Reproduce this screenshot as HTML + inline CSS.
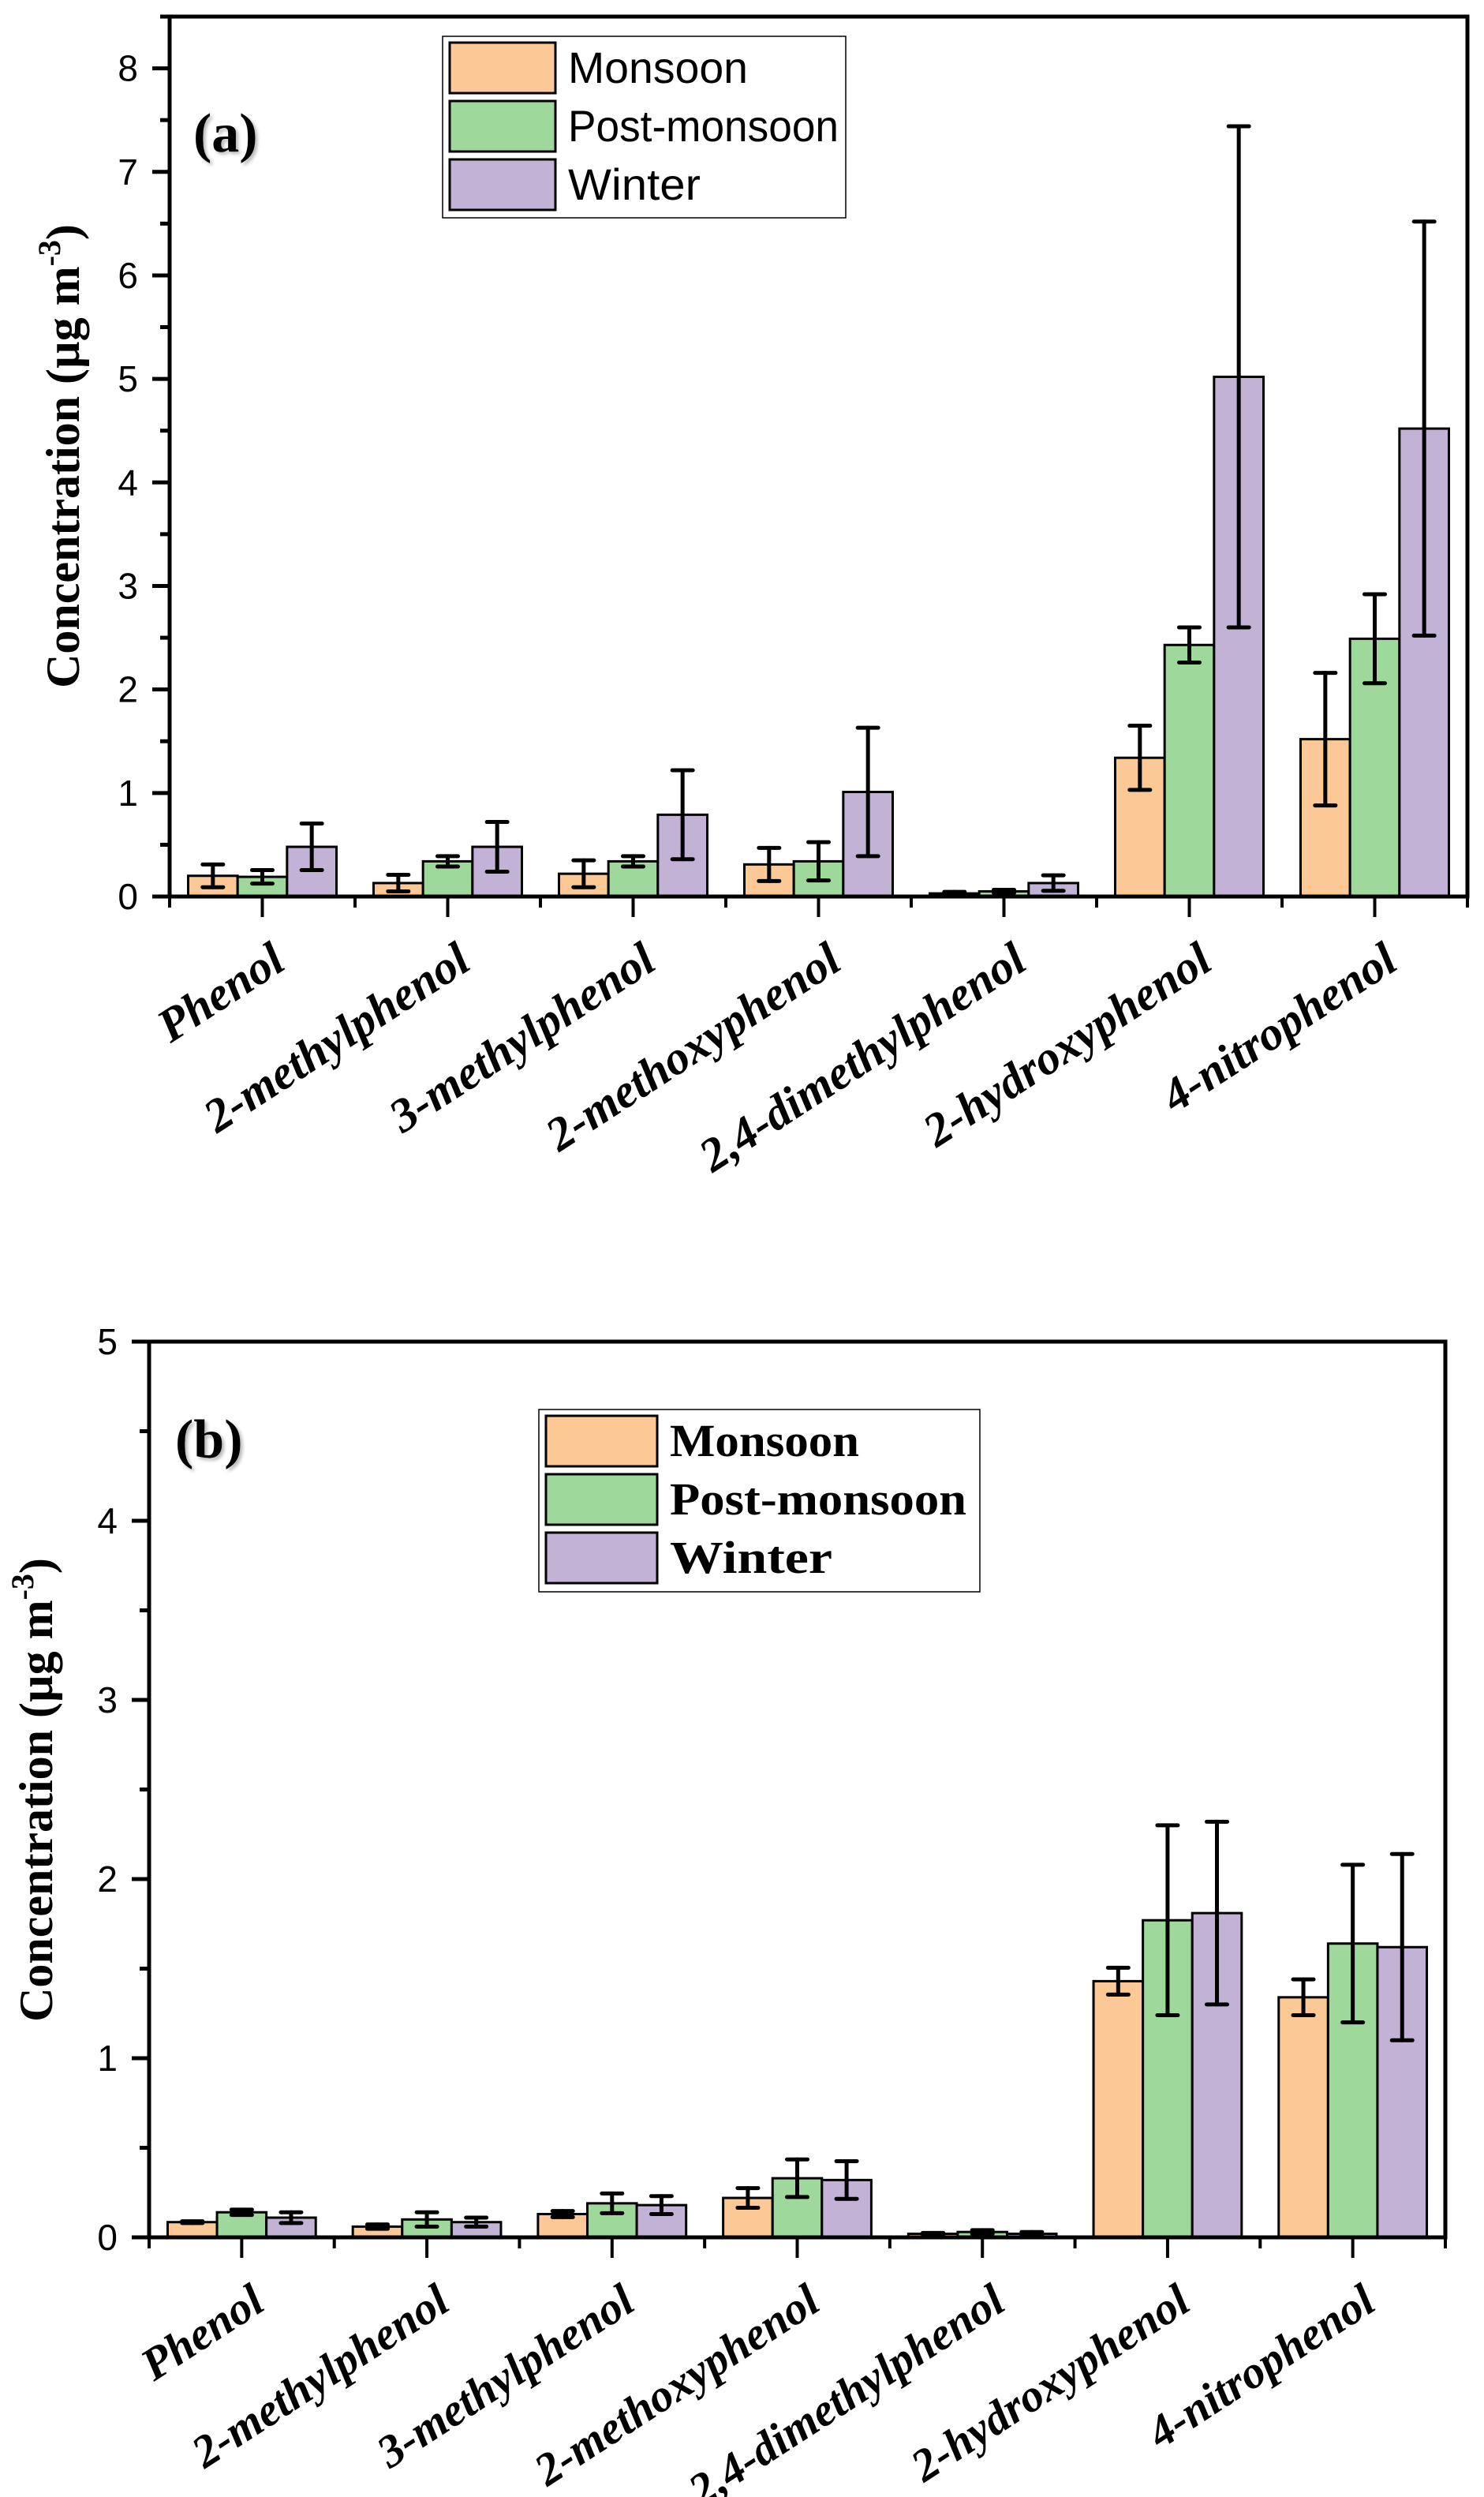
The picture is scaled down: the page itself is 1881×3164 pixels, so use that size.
<!DOCTYPE html>
<html><head><meta charset="utf-8"><style>
html,body{margin:0;padding:0;background:#fff;}
svg{display:block;}
</style></head><body>
<svg id="fig" width="1881" height="3164" viewBox="0 0 1881 3164" xmlns="http://www.w3.org/2000/svg">
<defs><filter id="sh" x="-20%" y="-20%" width="140%" height="140%"><feDropShadow dx="3" dy="3" stdDeviation="2" flood-color="#999" flood-opacity="0.7"/></filter></defs>
</svg>
<script>
const categories = ["Phenol","2-methylphenol","3-methylphenol","2-methoxyphenol","2,4-dimethylphenol","2-hydroxyphenol","4-nitrophenol"];
const seriesNames = ["Monsoon","Post-monsoon","Winter"];
// Panel (a)
const aMonsoon = [0.20,0.13,0.22,0.31,0.03,1.34,1.52];
const aMonsoonErr = [0.11,0.08,0.13,0.16,0.015,0.31,0.64];
const aPost = [0.19,0.34,0.34,0.34,0.05,2.43,2.49];
const aPostErr = [0.065,0.05,0.05,0.185,0.015,0.17,0.43];
const aWinter = [0.48,0.48,0.79,1.01,0.13,5.02,4.52];
const aWinterErr = [0.225,0.24,0.43,0.62,0.075,2.42,2.0];
const aTicks = [0,1,2,3,4,5,6,7,8];
// Panel (b)
const bMonsoon = [0.085,0.06,0.13,0.22,0.02,1.43,1.34];
const bMonsoonErr = [0.005,0.012,0.017,0.055,0.005,0.075,0.10];
const bPost = [0.14,0.10,0.19,0.33,0.03,1.77,1.64];
const bPostErr = [0.015,0.04,0.055,0.105,0.01,0.53,0.44];
const bWinter = [0.11,0.085,0.18,0.32,0.02,1.81,1.62];
const bWinterErr = [0.03,0.025,0.05,0.105,0.01,0.51,0.52];
const bTicks = [0,1,2,3,4,5];

const colors = ["#FBC896","#9ED89B","#C1B2D6"];
const NS = "http://www.w3.org/2000/svg";
const svg = document.getElementById('fig');
function mk(tag, attrs, parent){ const e=document.createElementNS(NS,tag); for(const k in attrs) e.setAttribute(k,attrs[k]); (parent||svg).appendChild(e); return e; }

function panel(cfg){
  const g = mk('g',{});
  
  
  const {L,R,T,B} = cfg;
  const ys = v => B - v*(B-T)/cfg.top;
  const gw = (R-L)/categories.length;
  const xc = i => L + gw*(i+0.5);
  const bw = gw*0.8/3;
  const vals=[cfg.m,cfg.p,cfg.w], errs=[cfg.me,cfg.pe,cfg.we];
  for(let s=0;s<3;s++){
    for(let i=0;i<categories.length;i++){
      const x0 = xc(i) - 1.5*bw + s*bw;
      const r = mk('rect',{x:x0,y:ys(vals[s][i]),width:bw,height:B-ys(vals[s][i]),fill:colors[s],stroke:'#000','stroke-width':3},g);
      
      
    }
  }
  for(let s=0;s<3;s++){
    for(let i=0;i<categories.length;i++){
      const cx = xc(i) - bw + s*bw;
      const hi = ys(vals[s][i]+errs[s][i]), lo = ys(Math.max(0,vals[s][i]-errs[s][i]));
      const eg = mk('g',{stroke:'#000','stroke-width':5,'stroke-linecap':'round'},g);
      
      
      mk('line',{x1:cx,x2:cx,y1:hi,y2:lo},eg);
      mk('line',{x1:cx-13,x2:cx+13,y1:hi,y2:hi},eg);
      mk('line',{x1:cx-13,x2:cx+13,y1:lo,y2:lo},eg);
    }
  }
  const fr = mk('rect',{x:L,y:T,width:R-L,height:B-T,fill:'none',stroke:'#000','stroke-width':5},g);
  
  
  const yax = mk('g',{},g);
  
  
  cfg.ticks.forEach(t=>{
    mk('line',{x1:L-22,x2:L,y1:ys(t),y2:ys(t),stroke:'#000','stroke-width':5},yax);
    if(t+0.5<=cfg.top) mk('line',{x1:L-12,x2:L,y1:ys(t+0.5),y2:ys(t+0.5),stroke:'#000','stroke-width':5},yax);
    const tx = mk('text',{x:L-40,y:ys(t)+16,'text-anchor':'end','font-family':'"Liberation Sans Narrow","Liberation Sans",sans-serif','font-size':46},yax);
    tx.textContent = t;
    
    
  });
  const xax = mk('g',{},g);
  
  
  for(let i=0;i<=categories.length;i++){
    mk('line',{x1:L+gw*i,x2:L+gw*i,y1:B,y2:B+14,stroke:'#000','stroke-width':4},xax);
  }
  categories.forEach((c,i)=>{
    mk('line',{x1:xc(i),x2:xc(i),y1:B,y2:B+26,stroke:'#000','stroke-width':4},xax);
    const tx = mk('text',{x:0,y:0,'text-anchor':'end','font-family':'"Liberation Serif",serif','font-weight':'bold','font-style':'italic','font-size':cfg.xfs,transform:`translate(${xc(i)+32},${B+90}) rotate(-33)`},xax);
    tx.textContent = c;
    
    
  });
  const yt = mk('text',{x:0,y:0,'text-anchor':'middle','font-family':'"Liberation Serif",serif','font-weight':'bold','font-size':60,transform:`translate(${cfg.ytx},${cfg.yty}) rotate(-90)`},g);
  
  
  yt.appendChild(document.createTextNode('Concentration (µg m'));
  const sup = mk('tspan',{dy:-24,'font-size':40},yt); sup.textContent='-3';
  const cl = mk('tspan',{dy:24},yt); cl.textContent=')';
  const pl = mk('text',{x:cfg.lx,y:cfg.ly,'font-family':'"Liberation Serif",serif','font-weight':'bold','font-size':70,filter:'url(#sh)'},g);
  pl.textContent = cfg.label;
  
  
  const lg = mk('g',{},g);
  
  
  mk('rect',{x:cfg.lgx,y:cfg.lgy,width:cfg.lgw,height:cfg.lgh,fill:'#fff',stroke:'#000','stroke-width':1.5},lg);
  seriesNames.forEach((n,s)=>{
    const eg = mk('g',{},lg);
    
    
    const ry = cfg.lgy+8+s*cfg.rowH;
    mk('rect',{x:cfg.lgx+9,y:ry,width:cfg.swW,height:cfg.rowH-10,fill:colors[s],stroke:'#000','stroke-width':3},eg);
    const attrs = {x:cfg.lgx+9+cfg.swW+16,y:ry+cfg.rowH/2+14,'font-size':cfg.lfs,'font-family':cfg.lfont};
    if(cfg.lbold) attrs['font-weight']='bold';
    if(cfg.lLen) { attrs.textLength=cfg.lLen[s]; attrs.lengthAdjust='spacingAndGlyphs'; }
    const t = mk('text',attrs,eg); t.textContent=n;
  });
}

panel({name:'chart-a',L:215,R:1860,T:21,B:1136,top:8.5,ticks:aTicks,m:aMonsoon,p:aPost,w:aWinter,me:aMonsoonErr,pe:aPostErr,we:aWinterErr,
  xfs:60,ytx:100,yty:578,label:'(a)',lx:245,ly:192,
  lgx:561,lgy:46,lgw:511,lgh:230,rowH:74,swW:134,lfs:56,lfont:'"Liberation Sans Narrow","Liberation Sans",sans-serif',lbold:false,lLen:[228,343,168]});
panel({name:'chart-b',L:189,R:1832,T:1700,B:2835,top:5,ticks:bTicks,m:bMonsoon,p:bPost,w:bWinter,me:bMonsoonErr,pe:bPostErr,we:bWinterErr,
  xfs:58,ytx:66,yty:2268,label:'(b)',lx:222,ly:1847,
  lgx:683,lgy:1786,lgw:559,lgh:231,rowH:74,swW:141,lfs:58,lfont:'"Liberation Serif",serif',lbold:true,lLen:[240,376,206]});
</script>
</body></html>
